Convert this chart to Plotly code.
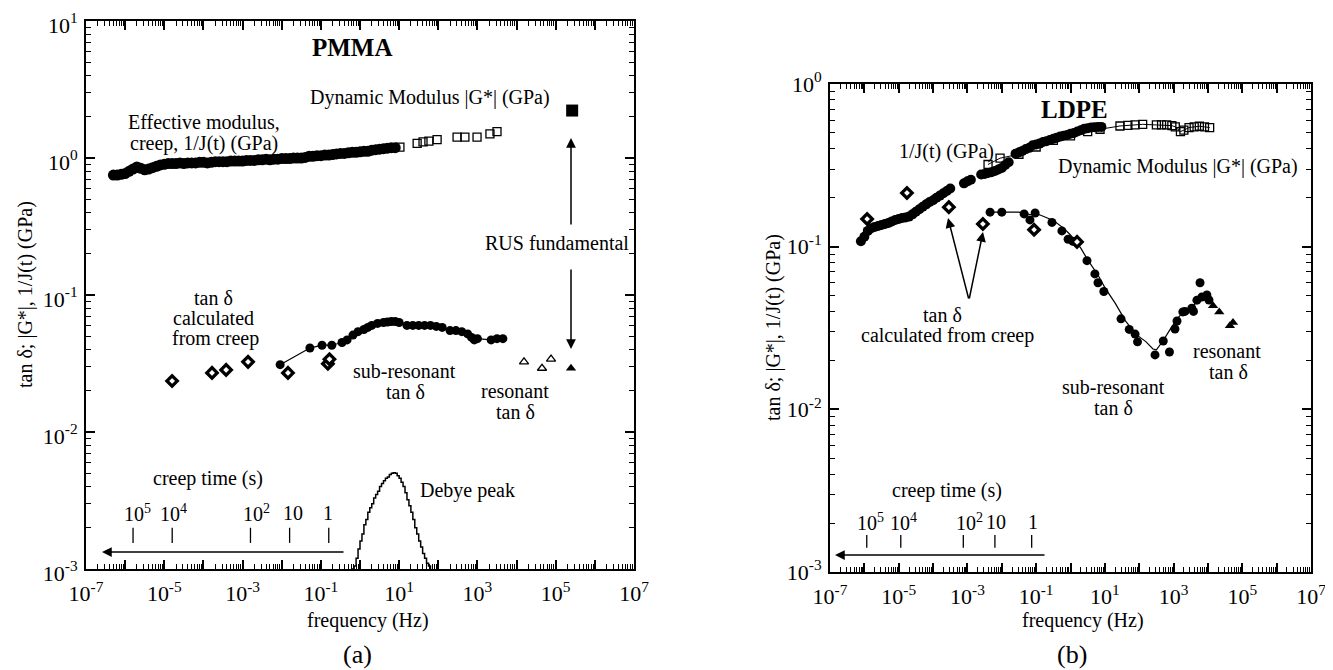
import numpy as np
import plotly.graph_objects as go

# page is 1333x670; the html body adds an 8px margin, so the figure is 8px smaller
PAGE_W, PAGE_H = 1333, 670
OFF = 8
W, H = PAGE_W - OFF, PAGE_H - OFF
SERIF = "Liberation Serif"

# ---------------- PMMA (a) data : log10(frequency / Hz) and values ----------------
pmma_creep_logf = [-6.3, -6.2, -6.1, -6.0, -5.9, -5.8, -5.7, -5.6, -5.5, -5.4, -5.3, -5.2, -5.1, -5.0,
                   -4.9, -4.8, -4.7, -4.6, -4.5, -4.4, -4.3, -4.2, -4.1, -4.0, -3.9, -3.8, -3.7, -3.6,
                   -3.5, -3.4, -3.3, -3.2, -3.1, -3.0, -2.9, -2.8, -2.7, -2.6, -2.5, -2.4, -2.3, -2.2,
                   -2.1, -2.0, -1.9, -1.8, -1.7, -1.6, -1.5, -1.4, -1.3, -1.2, -1.1, -1.0, -0.9, -0.8,
                   -0.7, -0.6, -0.5, -0.4, -0.3, -0.2, -0.1, 0.0, 0.1, 0.2, 0.3, 0.4, 0.5, 0.6, 0.7,
                   0.8, 0.9]
pmma_creep_G = [0.75, 0.75, 0.76, 0.77, 0.80, 0.83, 0.86, 0.84, 0.82, 0.83, 0.85, 0.87, 0.89, 0.90,
                0.91, 0.91, 0.91, 0.92, 0.91, 0.92, 0.92, 0.92, 0.93, 0.93, 0.92, 0.93, 0.94, 0.94,
                0.94, 0.94, 0.95, 0.95, 0.95, 0.95, 0.96, 0.96, 0.96, 0.97, 0.97, 0.98, 0.97, 0.98,
                0.98, 0.99, 0.99, 0.99, 1.00, 1.00, 1.00, 1.01, 1.03, 1.03, 1.04, 1.04, 1.05, 1.05,
                1.06, 1.07, 1.08, 1.08, 1.09, 1.10, 1.10, 1.11, 1.12, 1.12, 1.14, 1.15, 1.16, 1.17,
                1.18, 1.19, 1.19]

pmma_dyn_logf = [1.02, 1.46, 1.61, 1.76, 1.97, 2.48, 2.68, 2.99, 3.32, 3.50]
pmma_dyn_G = [1.20, 1.28, 1.31, 1.33, 1.36, 1.42, 1.42, 1.42, 1.50, 1.56]

pmma_rus_logf = [5.42]
pmma_rus_G = [2.22]

pmma_tan_logf = [-2.04, -1.28, -0.97, -0.72, -0.46, -0.33, -0.18, -0.05, 0.1, 0.2, 0.3, 0.45, 0.6,
                 0.7, 0.8, 0.9, 1.0, 1.2, 1.35, 1.5, 1.65, 1.8, 1.95, 2.1, 2.3, 2.45, 2.6, 2.75,
                 2.85, 2.92, 3.0, 3.35, 3.5, 3.65]
pmma_tan = [0.031, 0.041, 0.043, 0.043, 0.045, 0.047, 0.051, 0.054, 0.056, 0.058, 0.060, 0.062,
            0.063, 0.0635, 0.064, 0.064, 0.063, 0.060, 0.060, 0.060, 0.060, 0.060, 0.059, 0.058,
            0.055, 0.055, 0.054, 0.052, 0.049, 0.047, 0.048, 0.047, 0.048, 0.048]

pmma_tancreep_logf = [-4.8, -3.78, -3.42, -2.86, -1.84, -0.82, -0.78]
pmma_tancreep = [0.0236, 0.027, 0.0284, 0.0325, 0.027, 0.0315, 0.034]

pmma_res_logf = [4.19, 4.65, 4.88]
pmma_res = [0.0325, 0.0292, 0.034]
pmma_resfund_logf = [5.39]
pmma_resfund = [0.0292]

debye_logf = [-0.21, -0.15, -0.1, -0.05, 0.0, 0.05, 0.1, 0.15, 0.2, 0.25, 0.3, 0.35, 0.4, 0.45,
              0.5, 0.55, 0.6, 0.65, 0.7, 0.75, 0.8, 0.85, 0.9, 0.95, 1.0, 1.05, 1.1, 1.15, 1.2,
              1.25, 1.3, 1.35, 1.4, 1.45, 1.5, 1.55, 1.6, 1.65, 1.7, 1.75, 1.8]
debye_tan = [0.001, 0.00105, 0.0012, 0.0014, 0.0016, 0.0018, 0.0021, 0.0023, 0.0026, 0.0028,
             0.0030, 0.0033, 0.0035, 0.0037, 0.0040, 0.0042, 0.0044, 0.0046, 0.0047, 0.0049,
             0.0050, 0.00505, 0.0050, 0.0048, 0.0046, 0.0043, 0.0040, 0.0036, 0.0032, 0.0029,
             0.0026, 0.0023, 0.0020, 0.0018, 0.0016, 0.00145, 0.0013, 0.0012, 0.0011, 0.00105,
             0.001]

creep_time_labels = ["10<sup>5</sup>", "10<sup>4</sup>", "10<sup>2</sup>", "10", "1"]
pmma_creep_time_s = [1e5, 1e4, 1e2, 10, 1]

# ---------------- LDPE (b) data ----------------
ldpe_creep_logf = [-6.1, -6.0, -5.9, -5.8, -5.7, -5.6, -5.5, -5.4, -5.3, -5.2, -5.1, -5.0, -4.9,
                   -4.8, -4.7, -4.6, -4.5, -4.4, -4.3, -4.2, -4.1, -4.0, -3.9, -3.8, -3.7, -3.6,
                   -3.5, -3.1, -3.0, -2.9, -2.6, -2.5, -2.4, -2.3, -2.2, -2.1, -2.0, -1.9, -1.8,
                   -1.6, -1.5, -1.4, -1.3, -1.2, -1.1, -1.0, -0.9, -0.8, -0.7, -0.6, -0.5, -0.4,
                   -0.3, -0.2, -0.1, 0.0, 0.1, 0.2, 0.3, 0.4, 0.5, 0.6, 0.7, 0.8, 0.9]
ldpe_creep_G = [0.108, 0.115, 0.125, 0.130, 0.132, 0.134, 0.136, 0.138, 0.140, 0.143, 0.146, 0.148,
                0.150, 0.151, 0.153, 0.158, 0.164, 0.170, 0.176, 0.182, 0.188, 0.193, 0.200, 0.206,
                0.213, 0.220, 0.228, 0.245, 0.252, 0.258, 0.278, 0.280, 0.284, 0.287, 0.292, 0.298,
                0.305, 0.318, 0.330, 0.372, 0.380, 0.388, 0.398, 0.405, 0.420, 0.425, 0.430, 0.440,
                0.445, 0.453, 0.460, 0.468, 0.475, 0.480, 0.486, 0.495, 0.500, 0.510, 0.520, 0.530,
                0.535, 0.540, 0.542, 0.544, 0.545]

ldpe_dyn_logf = [-2.4, -2.05, -1.5, -1.0, -0.5, 0.0, 0.5, 0.86, 1.44, 1.67, 1.88, 2.1, 2.5, 2.65,
                 2.8, 2.95, 3.05, 3.2, 3.3, 3.45, 3.6, 3.75, 3.9, 4.05]
ldpe_dyn_G = [0.32, 0.35, 0.37, 0.41, 0.45, 0.48, 0.51, 0.527, 0.552, 0.556, 0.56, 0.565, 0.56,
              0.56, 0.56, 0.555, 0.545, 0.51, 0.52, 0.54, 0.545, 0.55, 0.545, 0.54]

ldpe_tan_logf = [-2.34, -2.0, -1.35, -1.18, -1.03, -0.54, -0.25, -0.07, 0.07, 0.48, 0.71, 0.80,
                 0.97, 1.47, 1.71, 1.88, 1.95, 2.46, 2.70, 2.88, 3.04, 3.10, 3.27, 3.33, 3.53,
                 3.58, 3.68, 3.77, 3.82, 3.97, 4.03]
ldpe_tan = [0.163, 0.163, 0.159, 0.146, 0.161, 0.141, 0.125, 0.111, 0.108, 0.082, 0.068, 0.060,
            0.053, 0.036, 0.031, 0.029, 0.026, 0.0216, 0.0263, 0.0225, 0.0312, 0.0349, 0.0397,
            0.040, 0.0418, 0.040, 0.0469, 0.060, 0.049, 0.0505, 0.047]

ldpe_fit_logf = [-2.34, -1.5, -1.2, -0.9, -0.5, -0.2, 0.0, 0.3, 0.5, 0.8, 1.0, 1.3, 1.6, 1.9,
                 2.2, 2.4, 2.5, 2.7, 2.9, 3.1, 3.3, 3.5, 3.7, 3.9, 4.0]
ldpe_fit = [0.163, 0.163, 0.158, 0.157, 0.145, 0.130, 0.118, 0.098, 0.083, 0.067, 0.056, 0.045,
            0.035, 0.029, 0.026, 0.0235, 0.0232, 0.0265, 0.031, 0.036, 0.040, 0.042, 0.046,
            0.048, 0.048]

ldpe_tancreep_logf = [-5.92, -4.76, -3.54, -2.55, -1.06, 0.19]
ldpe_tancreep = [0.148, 0.214, 0.175, 0.138, 0.127, 0.107]

ldpe_res_logf = [4.15, 4.33, 4.64, 4.73]
ldpe_res = [0.0434, 0.0397, 0.0326, 0.0342]

ldpe_creep_tick_logf = [-5.93, -4.94, -3.12, -2.2, -1.13]


def hz(logf):
    return np.power(10.0, np.asarray(logf, dtype=float))


# ---------------- helpers (page pixel -> paper fraction) ----------------
def px(x):
    return (x - OFF) / W


def py(y):
    return 1 - (y - OFF) / H


fig = go.Figure()


def add(xa, ya, logf, vals, **kw):
    fig.add_trace(go.Scatter(x=hz(logf), y=vals, xaxis=xa, yaxis=ya, showlegend=False,
                             hoverinfo="skip", cliponaxis=False, **kw))


BLK = "black"
DIAMOND = dict(symbol="diamond", size=8, color="white", line=dict(color=BLK, width=3.3))
# PMMA
add("x", "y", pmma_creep_logf, pmma_creep_G, mode="markers",
    marker=dict(symbol="circle", size=11, color=BLK))
add("x", "y", pmma_dyn_logf, pmma_dyn_G, mode="markers",
    marker=dict(symbol="square-open", size=8, color=BLK, line=dict(width=1.3)))
add("x", "y", pmma_rus_logf, pmma_rus_G, mode="markers",
    marker=dict(symbol="square", size=12, color=BLK))
add("x", "y", pmma_tan_logf, pmma_tan, mode="lines+markers", line=dict(color=BLK, width=1.2),
    marker=dict(symbol="circle", size=9, color=BLK))
add("x", "y", pmma_tancreep_logf, pmma_tancreep, mode="markers", marker=DIAMOND)
add("x", "y", pmma_res_logf, pmma_res, mode="markers",
    marker=dict(symbol="triangle-up-open", size=8, color=BLK, line=dict(width=1.3)))
add("x", "y", pmma_resfund_logf, pmma_resfund, mode="markers",
    marker=dict(symbol="triangle-up", size=9, color=BLK))
add("x", "y", debye_logf, debye_tan, mode="lines", line=dict(color=BLK, width=1.5, shape="hv"))

# creep-time ticks (a): t -> f = 1/(2 pi t)
pmma_tick_f = [1.0 / (2 * np.pi * t) for t in pmma_creep_time_s]
tx, ty = [], []
for f in pmma_tick_f:
    tx += [f, f, None]
    ty += [0.00200, 0.00155, None]
fig.add_trace(go.Scatter(x=tx, y=ty, xaxis="x", yaxis="y", mode="lines",
                         line=dict(color=BLK, width=1.3), showlegend=False, hoverinfo="skip"))

# LDPE
add("x2", "y2", ldpe_creep_logf, ldpe_creep_G, mode="markers",
    marker=dict(symbol="circle", size=10, color=BLK))
add("x2", "y2", ldpe_dyn_logf, ldpe_dyn_G, mode="lines+markers", line=dict(color=BLK, width=1),
    marker=dict(symbol="square-open", size=8, color=BLK, line=dict(width=1.3)))
add("x2", "y2", ldpe_fit_logf, ldpe_fit, mode="lines", line=dict(color=BLK, width=1.2))
add("x2", "y2", ldpe_tan_logf, ldpe_tan, mode="markers",
    marker=dict(symbol="circle", size=9, color=BLK))
add("x2", "y2", ldpe_tancreep_logf, ldpe_tancreep, mode="markers", marker=DIAMOND)
add("x2", "y2", ldpe_res_logf, ldpe_res, mode="markers",
    marker=dict(symbol="triangle-up", size=9, color=BLK))

tx, ty = [], []
for lf in ldpe_creep_tick_logf:
    f = 10.0 ** lf
    tx += [f, f, None]
    ty += [0.00169, 0.00141, None]
fig.add_trace(go.Scatter(x=tx, y=ty, xaxis="x2", yaxis="y2", mode="lines",
                         line=dict(color=BLK, width=1.3), showlegend=False, hoverinfo="skip"))

# ---------------- axes ----------------
xdec = list(range(-7, 8))
x_tickvals = [10.0 ** k for k in xdec]
x_ticktext = [f"10<sup>{k}</sup>" if k % 2 else "" for k in xdec]
x_minor = [m * 10.0 ** k for k in range(-7, 7) for m in range(2, 10)]


def xaxis(domain, anchor):
    return dict(type="log", range=[-7, 7], domain=domain, anchor=anchor, automargin=False,
                tickmode="array", tickvals=x_tickvals, ticktext=x_ticktext,
                ticks="inside", ticklen=9, tickwidth=1.5, tickcolor=BLK,
                showline=True, linewidth=2, linecolor=BLK, mirror="ticks",
                showgrid=False, zeroline=False, ticklabelstandoff=4, ticklabeloverflow="allow",
                tickfont=dict(family=SERIF, size=22, color=BLK),
                minor=dict(ticks="inside", ticklen=5, tickwidth=1, tickcolor=BLK,
                           tickmode="array", tickvals=x_minor, showgrid=False))


def yaxis(domain, anchor, lo, hi, shift=0):
    dec = list(range(lo, hi + 1))
    minor = [m * 10.0 ** k for k in range(lo, hi) for m in range(2, 10)]
    return dict(type="log", range=[lo, hi], domain=domain, anchor=anchor, automargin=False,
                tickmode="array", tickvals=[10.0 ** k for k in dec],
                ticktext=[f"10<sup>{k}</sup>" for k in dec],
                ticks="inside", ticklen=9, tickwidth=1.5, tickcolor=BLK,
                showline=True, linewidth=2, linecolor=BLK, mirror="ticks",
                showgrid=False, zeroline=False, ticklabelstandoff=2, ticklabeloverflow="allow",
                ticklabelshift=shift,
                tickfont=dict(family=SERIF, size=22, color=BLK),
                minor=dict(ticks="inside", ticklen=5, tickwidth=1, tickcolor=BLK,
                           tickmode="array", tickvals=minor, showgrid=False))


fig.update_layout(
    width=W, height=H,
    margin=dict(l=0, r=0, t=0, b=0, autoexpand=False),
    paper_bgcolor="white", plot_bgcolor="white",
    showlegend=False,
    xaxis=xaxis([px(86), px(634)], "y"),
    yaxis=yaxis([py(569), py(21)], "x", -3, 1, shift=4),
    xaxis2=xaxis([px(830), px(1311)], "y2"),
    yaxis2=yaxis([py(572), py(84)], "x2", -3, 0),
)

# ---------------- annotations (page pixel positions) ----------------
ann = []


def text(x, y, s, size=20, angle=0, bold=False):
    ann.append(dict(x=px(x), y=py(y), xref="paper", yref="paper", text=(f"<b>{s}</b>" if bold else s),
                    showarrow=False, xanchor="center", yanchor="middle", textangle=angle,
                    font=dict(family=SERIF, size=size, color=BLK)))


def arrow(hx, hy, tx_, ty_):
    ann.append(dict(x=px(hx), y=py(hy), xref="paper", yref="paper", ax=tx_ - hx, ay=ty_ - hy,
                    axref="pixel", ayref="pixel", text="", showarrow=True, arrowhead=2,
                    arrowsize=1.3, arrowwidth=1.5, arrowcolor=BLK, standoff=0, startstandoff=0))


# (a)
text(352, 47, "PMMA", size=25, bold=True)
text(430, 98, "Dynamic Modulus |G*| (GPa)")
text(204, 122, "Effective modulus,")
text(204, 143, "creep, 1/J(t) (GPa)")
text(213, 298, "tan δ")
text(213, 318, "calculated")
text(215, 338, "from creep")
text(404, 371, "sub-resonant")
text(406, 392, "tan δ")
text(515, 391, "resonant")
text(515, 412, "tan δ")
text(557, 243, "RUS fundamental")
text(468, 490, "Debye peak")
text(208, 478, "creep time (s)")
for lx, s in zip([137, 173, 256, 293, 328], creep_time_labels):
    text(lx, 513, s)
text(368, 620, "frequency (Hz)")
text(357, 654, "(a)", size=26)
text(25, 295, "tan δ; |G*|, 1/J(t) (GPa)", angle=-90)
arrow(571, 138, 571, 226)
arrow(571, 349, 571, 268)
arrow(102, 552, 345, 552)

# (b)
text(1074, 109, "LDPE", size=25, bold=True)
text(946, 152, "1/J(t) (GPa)")
text(1178, 166, "Dynamic Modulus |G*| (GPa)")
text(942, 315, "tan δ")
text(947, 335, "calculated from creep")
text(1113, 387, "sub-resonant")
text(1113, 408, "tan δ")
text(1227, 351, "resonant")
text(1228, 372, "tan δ")
text(947, 490, "creep time (s)")
for lx, s in zip([870, 903, 969, 996, 1033], creep_time_labels):
    text(lx, 522, s)
text(1083, 620, "frequency (Hz)")
text(1072, 654, "(b)", size=26)
text(773, 328, "tan δ; |G*|, 1/J(t) (GPa)", angle=-90)
arrow(948, 218, 969, 300)
arrow(983, 232, 969, 300)
arrow(835, 555, 1046, 555)

fig.update_layout(annotations=ann)
fig.write_html("out.html")
